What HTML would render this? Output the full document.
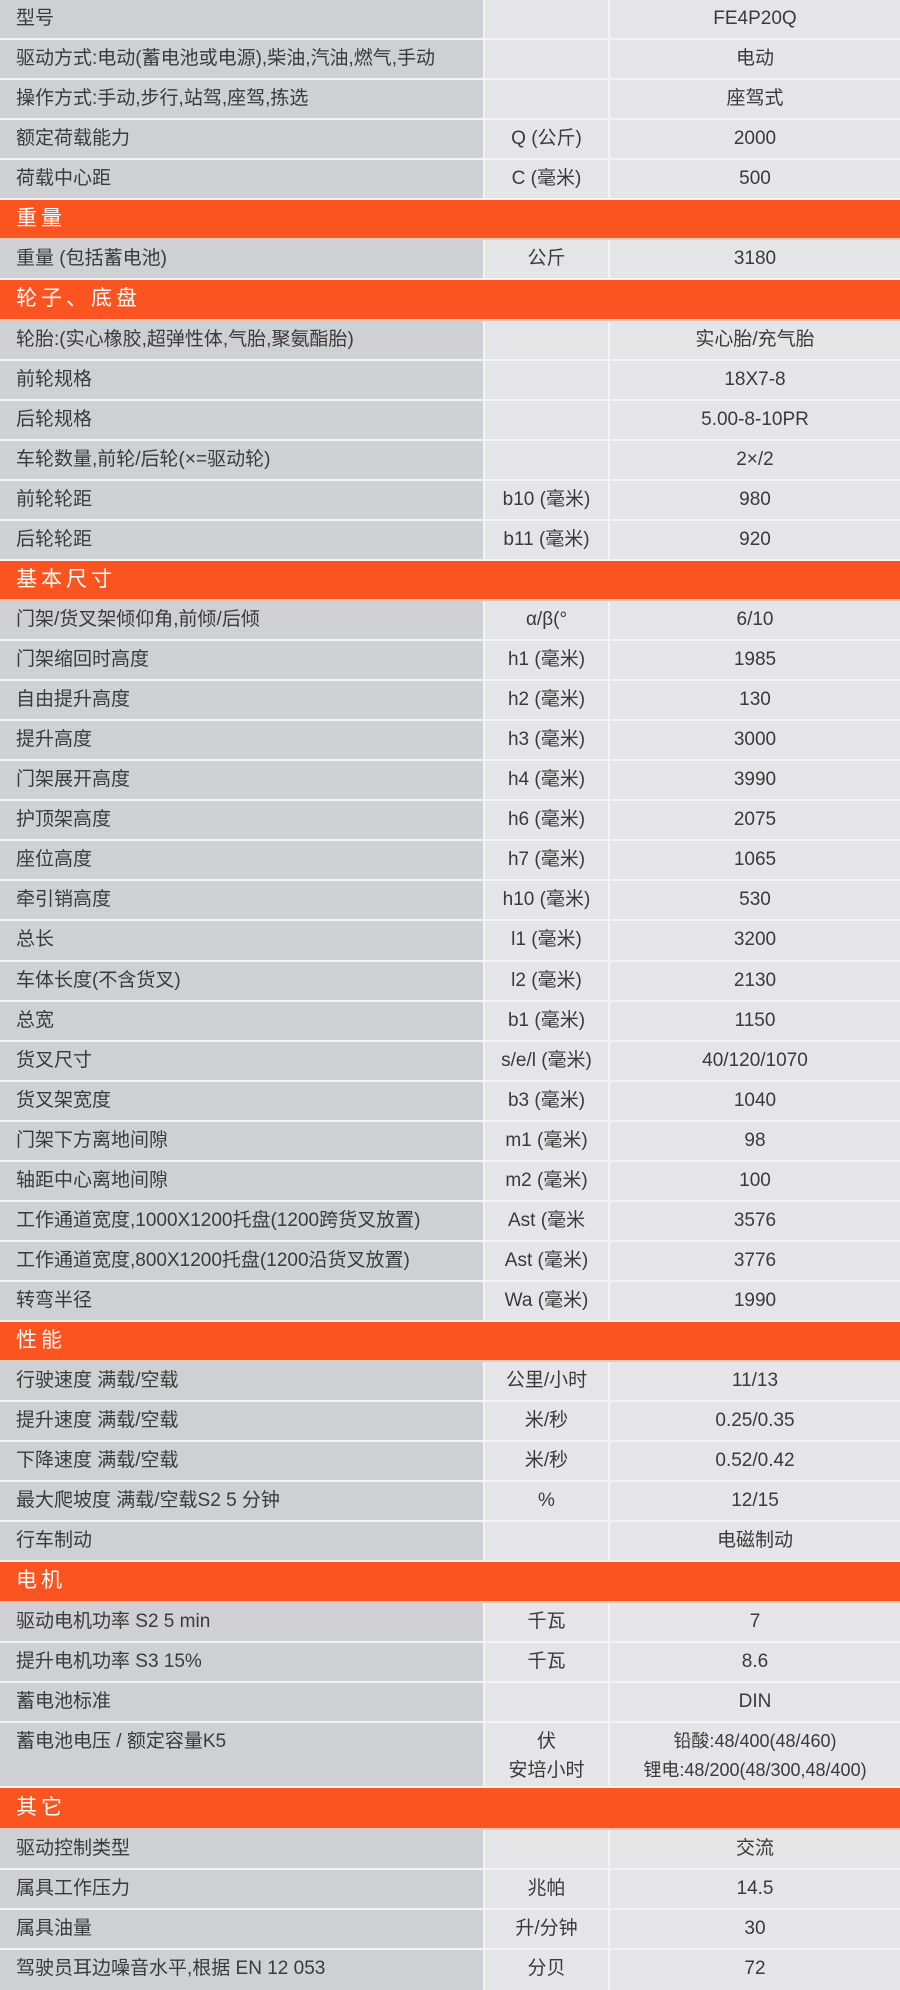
<!DOCTYPE html>
<html><head><meta charset="utf-8"><style>
*{margin:0;padding:0;box-sizing:border-box}
body{width:900px;height:1990px;background:#f2f2f2;font-family:"Liberation Sans","Noto Sans CJK SC",sans-serif;color:#3a3a3a;overflow:hidden}
.r{display:flex;height:40.07px;border-bottom:2px solid #f3f3f3}
.r>div{display:block;font-size:19px;line-height:38px;height:100%;white-space:nowrap}
.a{width:485px;background:#cfd0d4;padding-left:16px;border-right:2px solid #f3f3f3}
.b{width:125px;background:#e5e5e7;text-align:center;border-right:2px solid #f3f3f3}
.c{flex:1;background:#e5e5e7;text-align:center}
.h{height:40.07px;background:#fc5420;color:#fff;font-size:21px;padding-left:16px;line-height:38px;letter-spacing:4px;border-bottom:2px solid #f7c6b0}
.tall{height:65px}
.tall>div{line-height:29px;padding-top:4px}
</style></head><body>
<div class="r"><div class="a">型号</div><div class="b"></div><div class="c">FE4P20Q</div></div>
<div class="r"><div class="a">驱动方式:电动(蓄电池或电源),柴油,汽油,燃气,手动</div><div class="b"></div><div class="c">电动</div></div>
<div class="r"><div class="a">操作方式:手动,步行,站驾,座驾,拣选</div><div class="b"></div><div class="c">座驾式</div></div>
<div class="r"><div class="a">额定荷载能力</div><div class="b">Q (公斤)</div><div class="c">2000</div></div>
<div class="r"><div class="a">荷载中心距</div><div class="b">C (毫米)</div><div class="c">500</div></div>
<div class="h">重量</div>
<div class="r"><div class="a">重量 (包括蓄电池)</div><div class="b">公斤</div><div class="c">3180</div></div>
<div class="h">轮子、底盘</div>
<div class="r"><div class="a">轮胎:(实心橡胶,超弹性体,气胎,聚氨酯胎)</div><div class="b"></div><div class="c">实心胎/充气胎</div></div>
<div class="r"><div class="a">前轮规格</div><div class="b"></div><div class="c">18X7-8</div></div>
<div class="r"><div class="a">后轮规格</div><div class="b"></div><div class="c">5.00-8-10PR</div></div>
<div class="r"><div class="a">车轮数量,前轮/后轮(×=驱动轮)</div><div class="b"></div><div class="c">2×/2</div></div>
<div class="r"><div class="a">前轮轮距</div><div class="b">b10 (毫米)</div><div class="c">980</div></div>
<div class="r"><div class="a">后轮轮距</div><div class="b">b11 (毫米)</div><div class="c">920</div></div>
<div class="h">基本尺寸</div>
<div class="r"><div class="a">门架/货叉架倾仰角,前倾/后倾</div><div class="b">α/β(°</div><div class="c">6/10</div></div>
<div class="r"><div class="a">门架缩回时高度</div><div class="b">h1 (毫米)</div><div class="c">1985</div></div>
<div class="r"><div class="a">自由提升高度</div><div class="b">h2 (毫米)</div><div class="c">130</div></div>
<div class="r"><div class="a">提升高度</div><div class="b">h3 (毫米)</div><div class="c">3000</div></div>
<div class="r"><div class="a">门架展开高度</div><div class="b">h4 (毫米)</div><div class="c">3990</div></div>
<div class="r"><div class="a">护顶架高度</div><div class="b">h6 (毫米)</div><div class="c">2075</div></div>
<div class="r"><div class="a">座位高度</div><div class="b">h7 (毫米)</div><div class="c">1065</div></div>
<div class="r"><div class="a">牵引销高度</div><div class="b">h10 (毫米)</div><div class="c">530</div></div>
<div class="r"><div class="a">总长</div><div class="b">l1 (毫米)</div><div class="c">3200</div></div>
<div class="r"><div class="a">车体长度(不含货叉)</div><div class="b">l2 (毫米)</div><div class="c">2130</div></div>
<div class="r"><div class="a">总宽</div><div class="b">b1 (毫米)</div><div class="c">1150</div></div>
<div class="r"><div class="a">货叉尺寸</div><div class="b">s/e/l (毫米)</div><div class="c">40/120/1070</div></div>
<div class="r"><div class="a">货叉架宽度</div><div class="b">b3 (毫米)</div><div class="c">1040</div></div>
<div class="r"><div class="a">门架下方离地间隙</div><div class="b">m1 (毫米)</div><div class="c">98</div></div>
<div class="r"><div class="a">轴距中心离地间隙</div><div class="b">m2 (毫米)</div><div class="c">100</div></div>
<div class="r"><div class="a">工作通道宽度,1000X1200托盘(1200跨货叉放置)</div><div class="b">Ast (毫米</div><div class="c">3576</div></div>
<div class="r"><div class="a">工作通道宽度,800X1200托盘(1200沿货叉放置)</div><div class="b">Ast (毫米)</div><div class="c">3776</div></div>
<div class="r"><div class="a">转弯半径</div><div class="b">Wa (毫米)</div><div class="c">1990</div></div>
<div class="h">性能</div>
<div class="r"><div class="a">行驶速度 满载/空载</div><div class="b">公里/小时</div><div class="c">11/13</div></div>
<div class="r"><div class="a">提升速度 满载/空载</div><div class="b">米/秒</div><div class="c">0.25/0.35</div></div>
<div class="r"><div class="a">下降速度 满载/空载</div><div class="b">米/秒</div><div class="c">0.52/0.42</div></div>
<div class="r"><div class="a">最大爬坡度 满载/空载S2 5 分钟</div><div class="b">%</div><div class="c">12/15</div></div>
<div class="r"><div class="a">行车制动</div><div class="b"></div><div class="c">电磁制动</div></div>
<div class="h">电机</div>
<div class="r"><div class="a">驱动电机功率 S2 5 min</div><div class="b">千瓦</div><div class="c">7</div></div>
<div class="r"><div class="a">提升电机功率 S3 15%</div><div class="b">千瓦</div><div class="c">8.6</div></div>
<div class="r"><div class="a">蓄电池标准</div><div class="b"></div><div class="c">DIN</div></div>
<div class="r tall"><div class="a">蓄电池电压 / 额定容量K5</div><div class="b">伏<br>安培小时</div><div class="c" style="font-size:18px">铅酸:48/400(48/460)<br>锂电:48/200(48/300,48/400)</div></div>
<div class="h" style="height:42px;line-height:40px">其它</div>
<div class="r" style="height:40px"><div class="a">驱动控制类型</div><div class="b"></div><div class="c">交流</div></div>
<div class="r" style="height:40px"><div class="a">属具工作压力</div><div class="b">兆帕</div><div class="c">14.5</div></div>
<div class="r" style="height:40px"><div class="a">属具油量</div><div class="b">升/分钟</div><div class="c">30</div></div>
<div class="r" style="height:40px;border-bottom:none"><div class="a">驾驶员耳边噪音水平,根据 EN 12 053</div><div class="b">分贝</div><div class="c">72</div></div>
</body></html>
